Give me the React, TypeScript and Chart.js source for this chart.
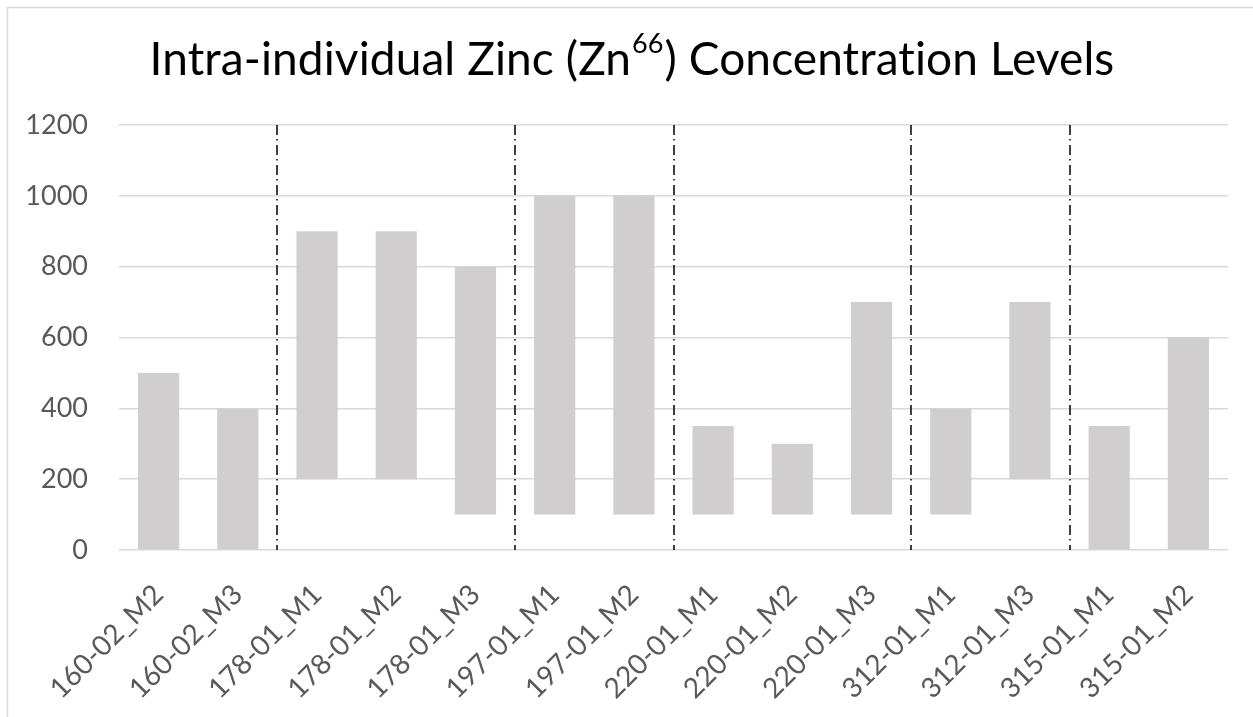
import React, { useEffect, useRef } from "react";
import { Chart, registerables } from "chart.js";

Chart.register(...registerables);

const categories = [
  "160-02_M2", "160-02_M3",
  "178-01_M1", "178-01_M2", "178-01_M3",
  "197-01_M1", "197-01_M2",
  "220-01_M1", "220-01_M2", "220-01_M3",
  "312-01_M1", "312-01_M3",
  "315-01_M1", "315-01_M2",
];
const lowValues = [0, 0, 200, 200, 100, 100, 100, 100, 100, 100, 100, 200, 0, 0];
const highValues = [500, 400, 900, 900, 800, 1000, 1000, 350, 300, 700, 400, 700, 350, 600];
// group separators are drawn after these category indices
const separatorsAfter = [1, 4, 6, 9, 11];
const yTicks = [0, 200, 400, 600, 800, 1000, 1200];

const titleBefore = "Intra-individual Zinc (Zn";
const titleSup = "66";
const titleAfter = ") Concentration Levels";

const FONT = "Lato, 'Open Sans', sans-serif";

const frameAndTitle = {
  id: "frameAndTitle",
  beforeDraw(chart: any) {
    const ctx = chart.ctx;
    ctx.save();
    ctx.fillStyle = "#ffffff";
    ctx.fillRect(0, 0, chart.width, chart.height);
    ctx.strokeStyle = "#d9d9d9";
    ctx.lineWidth = 1.5;
    ctx.beginPath();
    ctx.moveTo(7.5, chart.height);
    ctx.lineTo(7.5, 7.5);
    ctx.lineTo(chart.width, 7.5);
    ctx.stroke();
    ctx.restore();
  },
  afterDraw(chart: any) {
    const ctx = chart.ctx;
    ctx.save();
    // a tiny letter spacing keeps the "ti" ligature from forming
    (ctx as any).letterSpacing = "0.1px";
    const mainFont = `46px ${FONT}`;
    const supFont = `27px ${FONT}`;
    ctx.font = mainFont;
    const w1 = ctx.measureText(titleBefore).width;
    const w3 = ctx.measureText(titleAfter).width;
    ctx.font = supFont;
    const w2 = ctx.measureText(titleSup).width;
    const total = w1 + w2 + w3;
    const cx = 631;
    const baseline = 75;
    let x = cx - total / 2;
    ctx.fillStyle = "#000000";
    ctx.textBaseline = "alphabetic";
    ctx.textAlign = "left";
    ctx.font = mainFont;
    ctx.fillText(titleBefore, x, baseline);
    x += w1 + 1;
    ctx.font = supFont;
    ctx.fillText(titleSup, x, baseline - 22);
    x += w2 + 1;
    ctx.font = mainFont;
    ctx.fillText(titleAfter, x, baseline);
    ctx.restore();
  },
};

const separators = {
  id: "separators",
  beforeDatasetsDraw(chart: any) {
    const ctx = chart.ctx;
    const xs = chart.scales.x;
    const ys = chart.scales.y;
    const top = ys.getPixelForValue(yTicks[yTicks.length - 1]);
    const bottom = ys.getPixelForValue(0);
    ctx.save();
    ctx.strokeStyle = "#000000";
    ctx.lineWidth = 1.5;
    ctx.setLineDash([10, 4, 1.5, 4.5]);
    separatorsAfter.forEach((i) => {
      const px = Math.round((xs.getPixelForValue(i) + xs.getPixelForValue(i + 1)) / 2);
      ctx.beginPath();
      ctx.moveTo(px, top);
      ctx.lineTo(px, bottom);
      ctx.stroke();
    });
    ctx.restore();
  },
};

export default function App() {
  const ref = useRef<HTMLCanvasElement | null>(null);
  useEffect(() => {
    if (!ref.current) return;
    const chart = new Chart(ref.current, {
      type: "bar",
      data: {
        labels: categories,
        datasets: [
          {
            data: categories.map((_, i) => [lowValues[i], highValues[i]]) as any,
            backgroundColor: "#d0cece",
            borderWidth: 0,
            borderSkipped: false,
            barPercentage: 0.52,
            categoryPercentage: 1,
          },
        ],
      },
      options: {
        animation: false,
        responsive: false,
        events: [],
        layout: { padding: { left: 0, right: 25, top: 125, bottom: 0 } },
        plugins: {
          legend: { display: false },
          title: { display: false },
          tooltip: { enabled: false },
        },
        scales: {
          x: {
            grid: { display: false },
            border: { display: false },
            ticks: {
              autoSkip: false,
              minRotation: 45,
              maxRotation: 45,
              color: "#595959",
              padding: 20,
              font: { family: FONT, size: 28 },
            },
            afterFit(scale: any) {
              scale.height = 167;
            },
          },
          y: {
            min: 0,
            max: 1200,
            border: { display: false },
            grid: { color: "#d9d9d9", lineWidth: 1.5, drawTicks: false },
            afterBuildTicks(scale: any) {
              scale.ticks = yTicks.map((v) => ({ value: v }));
            },
            ticks: {
              color: "#595959",
              padding: 31,
              font: { family: FONT, size: 27 },
              callback: (v: any) => String(v),
            },
            afterFit(scale: any) {
              scale.width = 119;
            },
          },
        },
      },
      plugins: [frameAndTitle, separators],
    });
    return () => chart.destroy();
  }, []);
  return (
    <div style={{ position: "fixed", left: 0, top: 0, width: 1253, height: 717, background: "#fff" }}>
      <canvas ref={ref} width={1253} height={717} style={{ display: "block" }} />
    </div>
  );
}
